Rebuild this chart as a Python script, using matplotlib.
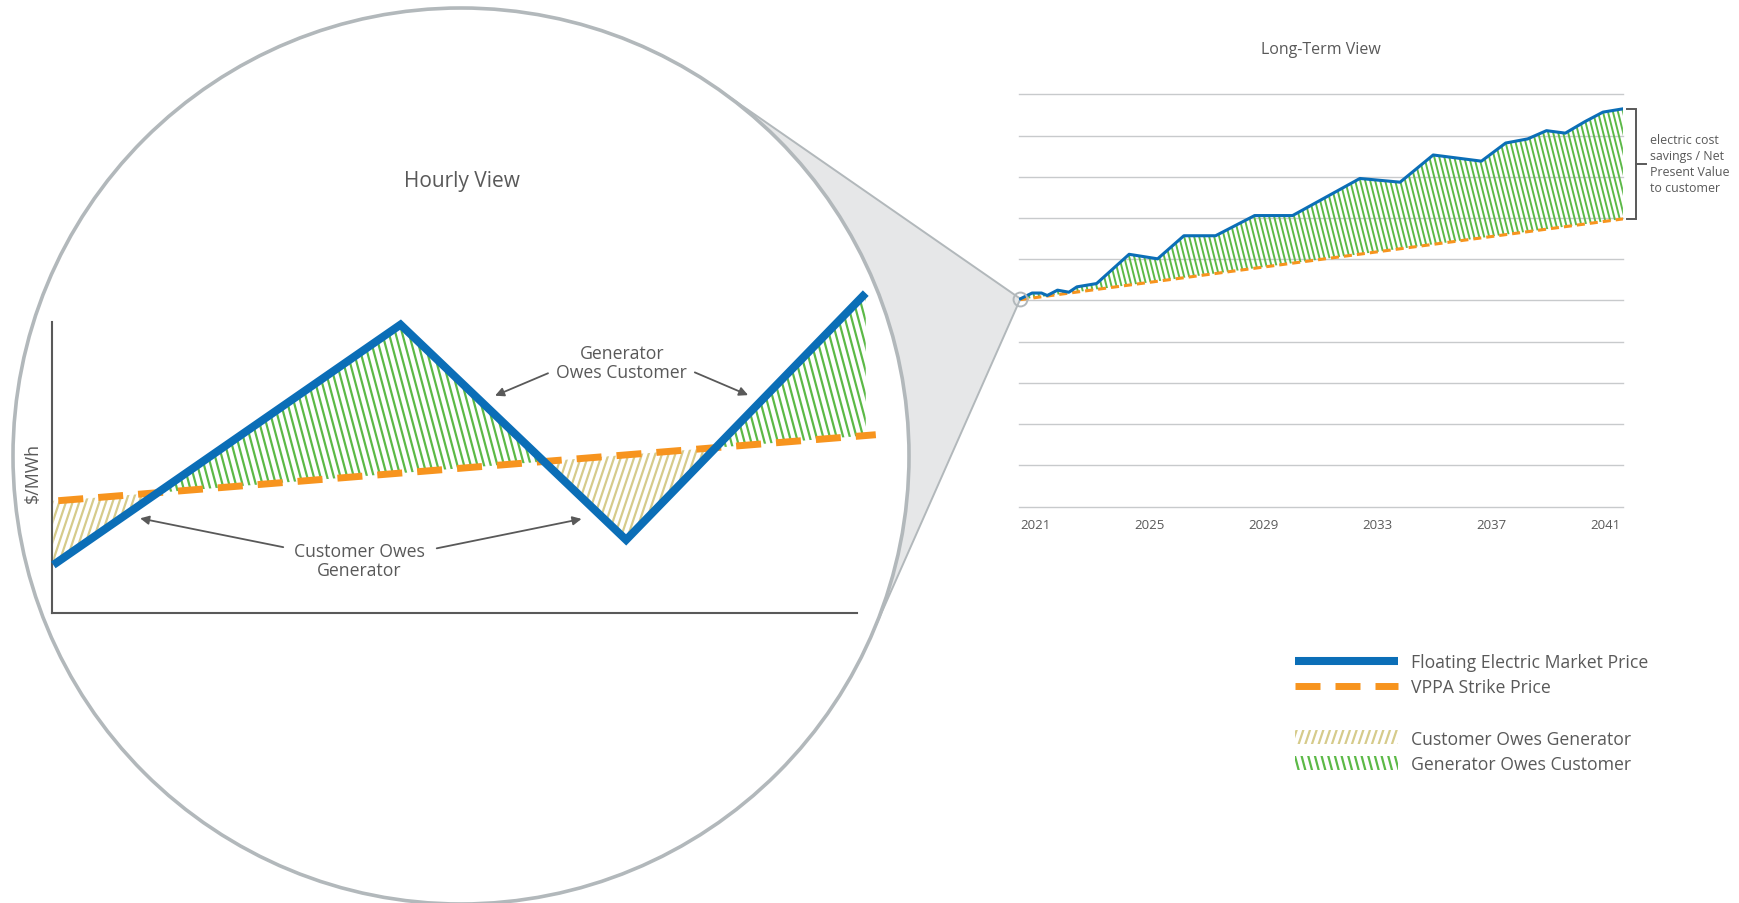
import numpy as np
import matplotlib
matplotlib.use('Agg')
import matplotlib.pyplot as plt
import matplotlib.transforms as mtrans
from matplotlib import hatch as mhatch
from matplotlib.path import Path
from matplotlib.patches import Circle, Polygon

# ---------------- data ----------------
# Hourly view (hour of day, $/MWh in arbitrary units)
hourly_market_x = [0.03, 10.39, 17.12, 24.27]
hourly_market_y = [16.5, 99.0, 25.1, 109.8]
hourly_strike_x = [0.18, 24.57]
hourly_strike_y = [38.55, 61.2]

# Long-term view (year, arbitrary price units; gridlines 0..10)
lt_years = [2020.48, 2020.89, 2021.22, 2021.42, 2021.78, 2022.18, 2022.46, 2023.15,
            2024.29, 2025.29, 2026.21, 2027.32, 2028.69, 2030.02, 2032.38, 2033.79,
            2034.95, 2036.64, 2037.49, 2038.26, 2038.92, 2039.58, 2040.27, 2040.90,
            2041.60]
lt_market = [5.04, 5.18, 5.18, 5.12, 5.25, 5.20, 5.33, 5.41,
             6.12, 6.01, 6.57, 6.57, 7.06, 7.06, 7.96, 7.87,
             8.53, 8.38, 8.82, 8.92, 9.12, 9.06, 9.34, 9.57,
             9.65]
lt_strike_years = [2020.48, 2041.62]
lt_strike = [5.02, 6.98]
tick_years = [2021, 2025, 2029, 2033, 2037, 2041]

line_labels = ['Floating Electric Market Price', 'VPPA Strike Price']
hatch_labels = ['Customer Owes Generator', 'Generator Owes Customer']

# ---------------- style ----------------
BLUE = '#0b6eb7'
ORANGE = '#f7941e'
GREEN = '#5cb947'
TAN = '#d6cb8b'
TEXT = '#595959'
RING = '#b2b8bb'
CONE = '#e6e7e8'
GRID = '#c8cacc'

plt.rcParams['font.family'] = ['Open Sans', 'DejaVu Sans']
plt.rcParams['lines.scale_dashes'] = False
plt.rcParams['hatch.linewidth'] = 1.5


# steep slanted hatches (replace '|' and '/')
class _Slant(mhatch.HatchPatternBase):
    char = '|'
    tilt = -0.27
    per = 5

    def __init__(self, hatch, density):
        k = hatch.count(self.char)
        self.lines = np.empty(0)
        self.s = 0.0
        if k:
            n = self.per * k
            self.s = round(self.tilt * n) / n
            lo = int(np.floor((min(0.0, -self.s) - 0.2) * n))
            hi = int(np.ceil((1.0 + max(0.0, -self.s) + 0.2) * n))
            self.lines = np.arange(lo, hi + 1) / n
        self.num_lines = len(self.lines)
        self.num_vertices = 2 * self.num_lines

    def set_vertices_and_codes(self, vertices, codes):
        e = 0.05
        x0 = self.lines
        vertices[0::2, 0] = x0 - self.s * e
        vertices[0::2, 1] = -e
        vertices[1::2, 0] = x0 + self.s * (1 + e)
        vertices[1::2, 1] = 1 + e
        codes[0::2] = Path.MOVETO
        codes[1::2] = Path.LINETO


class _GreenSlant(_Slant):
    char = '|'
    tilt = -0.27


class _TanSlant(_Slant):
    char = '/'
    tilt = 0.36


mhatch._hatch_types = [_GreenSlant, _TanSlant] + [
    h for h in mhatch._hatch_types
    if h not in (mhatch.VerticalHatch, mhatch.NorthEastHatch)]

W, H = 1740, 904
fig = plt.figure(figsize=(W / 100, H / 100), dpi=100)


def ax_rect(l, t, r, b):
    return [l / W, 1 - b / H, (r - l) / W, (b - t) / H]


axD = fig.add_axes([0, 0, 1, 1], zorder=0)
axD.set_xlim(0, W)
axD.set_ylim(H, 0)
axD.axis('off')

axL = fig.add_axes(ax_rect(52.3, 322.7, 856.7, 614), zorder=2)
axR = fig.add_axes(ax_rect(1018.7, 95.4, 1623.5, 507.5), zorder=2)

# ---------------- long-term view ----------------
axR.set_xlim(2020.42, 2041.62)
axR.set_ylim(0, 10)
axR.patch.set_visible(False)
for s in axR.spines.values():
    s.set_visible(False)
axR.set_yticks(range(11))
axR.yaxis.grid(True, color=GRID, lw=1.0)
for gl in axR.get_ygridlines():
    gl.set_clip_on(False)
axR.set_axisbelow(True)
axR.tick_params(axis='y', length=0, labelleft=False)
axR.set_xticks(tick_years)
axR.tick_params(axis='x', length=0, labelsize=9.5, labelcolor=TEXT, pad=8)

xg2 = np.linspace(lt_years[0], lt_years[-1], 3000)
bm2 = np.interp(xg2, lt_years, lt_market)
sm2 = np.interp(xg2, lt_strike_years, lt_strike)
plt.rcParams['hatch.linewidth'] = 1.4
axR.fill_between(xg2, sm2, bm2, where=bm2 >= sm2, interpolate=True,
                 facecolor='none', edgecolor=GREEN, hatch='||||', linewidth=0, zorder=2)
axR.plot(lt_strike_years, lt_strike, color=ORANGE, lw=2.2, dashes=(5.8, 3.6), zorder=3)
axR.plot(lt_years, lt_market, color=BLUE, lw=2.2, solid_joinstyle='round', zorder=4)
axR.plot(lt_years[0], lt_market[0], marker='o', ms=10, mfc='none', mec=RING, mew=1.4,
         zorder=5, clip_on=False)

btr = mtrans.blended_transform_factory(axR.transAxes, axR.transData)
ytop, ybot = lt_market[-1], lt_strike[-1]
axR.plot([1.0053, 1.021, 1.021, 1.0053], [ytop, ytop, ybot, ybot], transform=btr,
         color=TEXT, lw=1.4, clip_on=False, solid_joinstyle='miter')
ymid = (ytop + ybot) / 2
axR.plot([1.021, 1.0365], [ymid, ymid], transform=btr, color=TEXT, lw=1.4, clip_on=False)
axR.text(1.044, ymid + 0.02, 'electric cost\nsavings / Net\nPresent Value\nto customer',
         transform=btr, ha='left', va='center', fontsize=8.9, color=TEXT, linespacing=1.3)
axR.text(0.5, 1 + (95.4 - 49.9) / 412.1, 'Long-Term View', transform=axR.transAxes,
         ha='center', va='center', fontsize=11.5, color=TEXT)

# ---------------- magnifier decoration ----------------
P = axR.transData.transform((lt_years[0], lt_market[0]))
px, py = P[0], H - P[1]
cx, cy, R = 461.0, 457.0, 448.0
dx, dy = cx - px, cy - py
d = np.hypot(dx, dy)
base = np.arctan2(dy, dx)
a = np.arcsin(R / d)
Lt = np.sqrt(d * d - R * R)
T1 = (px + Lt * np.cos(base + a), py + Lt * np.sin(base + a))
T2 = (px + Lt * np.cos(base - a), py + Lt * np.sin(base - a))
axD.add_patch(Polygon([(px, py), T1, T2], closed=True, facecolor=CONE, edgecolor='none', zorder=1))
axD.plot([T1[0], px, T2[0]], [T1[1], py, T2[1]], color=RING, lw=1.4, zorder=2)
axD.add_patch(Circle((cx, cy), R, facecolor='white', edgecolor=RING, lw=2.6, zorder=3))

# ---------------- hourly view ----------------
axL.set_xlim(0, 24)
axL.set_ylim(0, 100)
axL.patch.set_visible(False)
for s in ['top', 'right']:
    axL.spines[s].set_visible(False)
for s in ['left', 'bottom']:
    axL.spines[s].set_color(TEXT)
    axL.spines[s].set_linewidth(1.5)
axL.set_xticks([])
axL.set_yticks([])

xg = np.linspace(hourly_market_x[0], hourly_market_x[-1], 3000)
bm = np.interp(xg, hourly_market_x, hourly_market_y)
sm = np.interp(xg, hourly_strike_x, hourly_strike_y)
plt.rcParams['hatch.linewidth'] = 1.6
gfill = axL.fill_between(xg, sm, bm, where=bm >= sm, interpolate=True, facecolor='none',
                         edgecolor=GREEN, hatch='|||', linewidth=0, zorder=2)
tfill = axL.fill_between(xg, bm, sm, where=bm <= sm, interpolate=True, facecolor='none',
                         edgecolor=TAN, hatch='///', linewidth=0, zorder=2)
gfill.set_clip_on(False)
tfill.set_clip_on(False)
sline, = axL.plot(hourly_strike_x, hourly_strike_y, color=ORANGE, lw=5.0, dashes=(18, 10.8),
                  clip_on=False, zorder=3)
mline, = axL.plot(hourly_market_x, hourly_market_y, color=BLUE, lw=5.8, solid_joinstyle='miter',
                  solid_capstyle='butt', clip_on=False, zorder=4)

axL.text(-0.0236, 0.483, '$/MWh', transform=axL.transAxes, rotation=90, ha='center',
         va='center', fontsize=12.8, color=TEXT)
fig.text(462 / W, 1 - 181 / H, 'Hourly View', ha='center', va='center', fontsize=15, color=TEXT)

arrow_kw = dict(arrowstyle='-|>', mutation_scale=13, lw=1.3, color=TEXT, shrinkA=0, shrinkB=0)
axL.text(16.99, 86.0, 'Generator\nOwes Customer', ha='center', va='center', fontsize=12.7,
         color=TEXT, linespacing=1.03)
axL.annotate('', xy=(13.21, 74.6), xytext=(14.79, 82.3), arrowprops=arrow_kw)
axL.annotate('', xy=(20.76, 74.8), xytext=(19.17, 82.6), arrowprops=arrow_kw)
axL.text(9.16, 18.0, 'Customer Owes\nGenerator', ha='center', va='center', fontsize=12.7,
         color=TEXT, linespacing=1.03)
axL.annotate('', xy=(2.62, 32.5), xytext=(6.89, 22.6), arrowprops=arrow_kw)
axL.annotate('', xy=(15.79, 32.3), xytext=(11.47, 22.2), arrowprops=arrow_kw)

# ---------------- legends ----------------
leg_kw = dict(loc='center left', frameon=False, fontsize=12.7, handlelength=5.85,
              handletextpad=0.75, borderpad=0, borderaxespad=0, labelspacing=0.43,
              labelcolor=TEXT)
fig.legend([mline, sline], line_labels, bbox_to_anchor=(1295 / W, 1 - 675.5 / H), **leg_kw)
fig.legend([tfill, gfill], hatch_labels, bbox_to_anchor=(1295 / W, 1 - 752.3 / H),
           handleheight=0.85, **leg_kw)

fig.savefig('out.png', dpi=100)
